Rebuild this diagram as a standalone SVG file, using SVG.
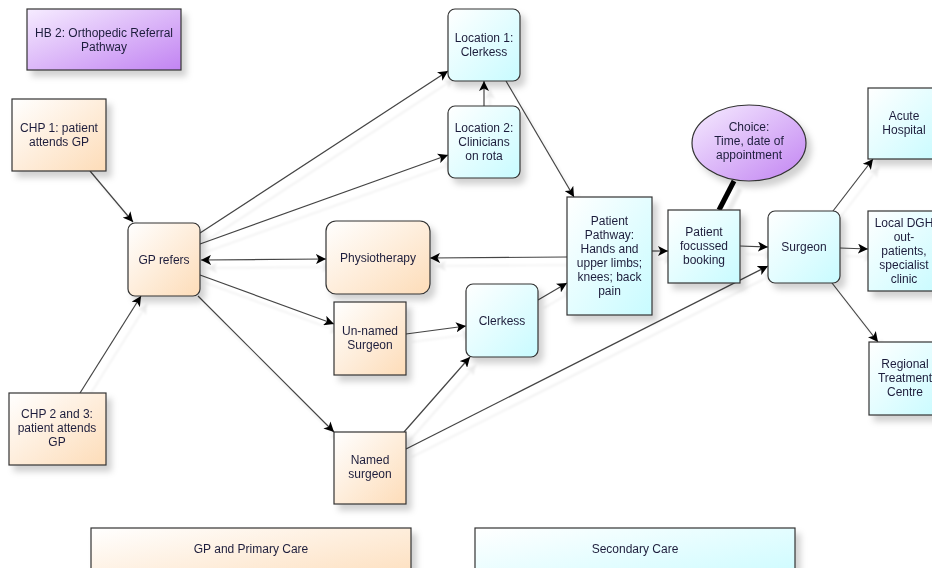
<svg xmlns="http://www.w3.org/2000/svg" width="932" height="568" viewBox="0 0 932 568">
<defs>
<linearGradient id="gO" x1="0" y1="0" x2="1" y2="1"><stop offset="0" stop-color="#ffffff"/><stop offset="1" stop-color="#fddcb8"/></linearGradient>
<linearGradient id="gC" x1="0" y1="0" x2="1" y2="1"><stop offset="0" stop-color="#ffffff"/><stop offset="1" stop-color="#c8fbff"/></linearGradient>
<linearGradient id="gP" x1="0" y1="0" x2="1" y2="1"><stop offset="0" stop-color="#f6ecff"/><stop offset="1" stop-color="#c284f2"/></linearGradient>
<filter id="sh" x="-20%" y="-20%" width="150%" height="150%"><feDropShadow dx="5" dy="6" stdDeviation="3" flood-color="#000" flood-opacity="0.18"/></filter>
<filter id="lsh" x="-10%" y="-10%" width="120%" height="130%"><feDropShadow dx="6" dy="8" stdDeviation="1" flood-color="#000" flood-opacity="0.08"/></filter>
<marker id="ah" viewBox="0 0 10 10" refX="10" refY="5" markerWidth="10" markerHeight="10" markerUnits="userSpaceOnUse" orient="auto-start-reverse"><path d="M0,0 L10,5 L0,10 L2.5,5 z" fill="#000"/></marker>
</defs>
<style>
.n{stroke:#333;stroke-width:1.2}
.o{fill:url(#gO)}
.c{fill:url(#gC)}
.p{fill:url(#gP)}
text{font-family:"Liberation Sans",Arial,sans-serif;font-size:12px;fill:#1e1e3c;text-anchor:middle}
.e{fill:none;stroke:#444;stroke-width:1.2;marker-end:url(#ah)}
</style>
<rect width="932" height="568" fill="#fff"/>
<g id="connectors" filter="url(#lsh)">
<line class="e" x1="90" y1="171" x2="133" y2="222"/>
<line class="e" x1="80" y1="393" x2="141" y2="296"/>
<line class="e" x1="200" y1="233" x2="448" y2="71"/>
<line class="e" x1="200" y1="244" x2="448" y2="155"/>
<line class="e" x1="201" y1="260" x2="326" y2="259" marker-start="url(#ah)"/>
<line class="e" x1="200" y1="275" x2="334" y2="324"/>
<line class="e" x1="198" y1="296" x2="334" y2="432"/>
<line class="e" x1="484" y1="106" x2="484" y2="81"/>
<line class="e" x1="506" y1="81" x2="574" y2="197"/>
<line class="e" x1="567" y1="257" x2="430" y2="258"/>
<line class="e" x1="406" y1="334" x2="466" y2="326"/>
<line class="e" x1="404" y1="432" x2="470" y2="357"/>
<line class="e" x1="406" y1="449" x2="768" y2="266"/>
<line class="e" x1="538" y1="300" x2="567" y2="283"/>
<line class="e" x1="652" y1="251" x2="668" y2="251"/>
<line class="e" x1="740" y1="246" x2="768" y2="247"/>
<line x1="719" y1="210" x2="734" y2="181" stroke="#000" stroke-width="5"/>
<line class="e" x1="833" y1="211" x2="873" y2="159"/>
<line class="e" x1="840" y1="248" x2="868" y2="249"/>
<line class="e" x1="832" y1="283" x2="878" y2="342"/>
</g>
<g id="hb2" filter="url(#sh)"><rect class="n p" x="27" y="9" width="154" height="61"/><text x="104" y="37">HB 2: Orthopedic Referral</text><text x="104" y="51">Pathway</text></g>
<g id="chp1" filter="url(#sh)"><rect class="n o" x="12" y="99" width="94" height="72"/><text x="59" y="132">CHP 1: patient</text><text x="59" y="146">attends GP</text></g>
<g id="chp23" filter="url(#sh)"><rect class="n o" x="9" y="393" width="97" height="72"/><text x="57" y="418">CHP 2 and 3:</text><text x="57" y="432">patient attends</text><text x="57" y="446">GP</text></g>
<g id="gprefers" filter="url(#sh)"><rect class="n o" x="128" y="223" width="72" height="73" rx="7"/><text x="164" y="264">GP refers</text></g>
<g id="physio" filter="url(#sh)"><rect class="n o" x="326" y="221" width="104" height="73" rx="10"/><text x="378" y="262">Physiotherapy</text></g>
<g id="unnamed" filter="url(#sh)"><rect class="n o" x="334" y="302" width="72" height="73"/><text x="370" y="335">Un-named</text><text x="370" y="349">Surgeon</text></g>
<g id="named" filter="url(#sh)"><rect class="n o" x="334" y="432" width="72" height="72"/><text x="370" y="464">Named</text><text x="370" y="478">surgeon</text></g>
<g id="loc1" filter="url(#sh)"><rect class="n c" x="448" y="9" width="72" height="72" rx="7"/><text x="484" y="42">Location 1:</text><text x="484" y="56">Clerkess</text></g>
<g id="loc2" filter="url(#sh)"><rect class="n c" x="448" y="106" width="72" height="72" rx="7"/><text x="484" y="132">Location 2:</text><text x="484" y="146">Clinicians</text><text x="484" y="160">on rota</text></g>
<g id="clerkess" filter="url(#sh)"><rect class="n c" x="466" y="284" width="72" height="73" rx="7"/><text x="502" y="325">Clerkess</text></g>
<g id="pathway" filter="url(#sh)"><rect class="n c" x="567" y="197" width="85" height="118"/><text x="609.5" y="225">Patient</text><text x="609.5" y="239">Pathway:</text><text x="609.5" y="253">Hands and</text><text x="609.5" y="267">upper limbs;</text><text x="609.5" y="281">knees; back</text><text x="609.5" y="295">pain</text></g>
<g id="pfb" filter="url(#sh)"><rect class="n c" x="668" y="210" width="72" height="73"/><text x="704" y="236">Patient</text><text x="704" y="250">focussed</text><text x="704" y="264">booking</text></g>
<g id="choice" filter="url(#sh)"><ellipse class="n p" cx="749" cy="143" rx="57" ry="38"/><text x="749" y="131">Choice:</text><text x="749" y="145">Time, date of</text><text x="749" y="159">appointment</text></g>
<g id="surgeon" filter="url(#sh)"><rect class="n c" x="768" y="211" width="72" height="72" rx="7"/><text x="804" y="251">Surgeon</text></g>
<g id="acute" filter="url(#sh)"><rect class="n c" x="868" y="88" width="72" height="71"/><text x="904" y="120">Acute</text><text x="904" y="134">Hospital</text></g>
<g id="localdgh" filter="url(#sh)"><rect class="n c" x="868" y="211" width="72" height="80"/><text x="904" y="227">Local DGH</text><text x="904" y="241">out-</text><text x="904" y="255">patients,</text><text x="904" y="269">specialist</text><text x="904" y="283">clinic</text></g>
<g id="regional" filter="url(#sh)"><rect class="n c" x="869" y="342" width="72" height="73"/><text x="905" y="368">Regional</text><text x="905" y="382">Treatment</text><text x="905" y="396">Centre</text></g>
<g id="legend-primary" filter="url(#sh)"><rect class="n o" x="91" y="528" width="320" height="60"/><text x="251" y="553">GP and Primary Care</text></g>
<g id="legend-secondary" filter="url(#sh)"><rect class="n c" x="475" y="528" width="320" height="60"/><text x="635" y="553">Secondary Care</text></g>
</svg>
